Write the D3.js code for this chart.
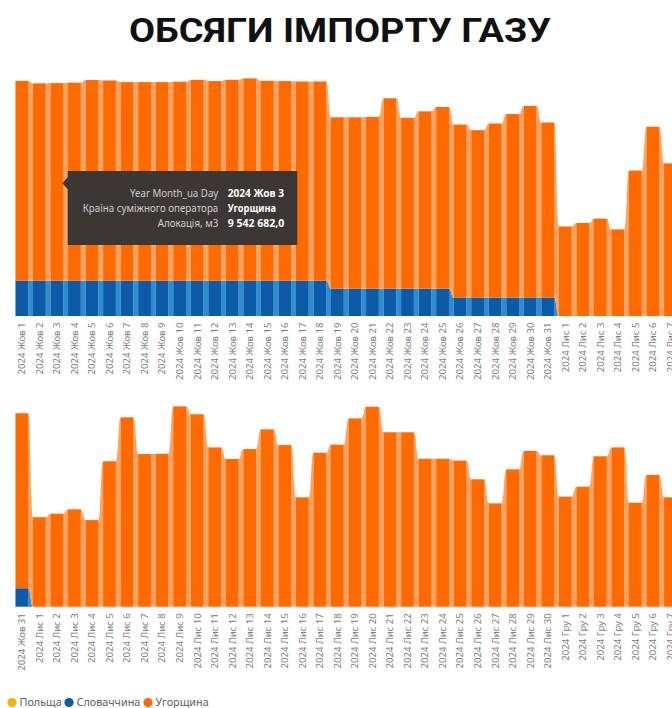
<!DOCTYPE html>
<html><head><meta charset="utf-8">
<script src="https://cdn.jsdelivr.net/npm/d3@7"></script>
<style>
html,body{margin:0;padding:0;background:#fff;overflow:hidden}
svg{display:block}
</style></head><body>
<svg id="c" width="672" height="708"></svg>
<script>
// ---------- DATA ----------
const categories = [
 "2024 Жов 1","2024 Жов 2","2024 Жов 3","2024 Жов 4","2024 Жов 5","2024 Жов 6","2024 Жов 7","2024 Жов 8","2024 Жов 9","2024 Жов 10",
 "2024 Жов 11","2024 Жов 12","2024 Жов 13","2024 Жов 14","2024 Жов 15","2024 Жов 16","2024 Жов 17","2024 Жов 18","2024 Жов 19","2024 Жов 20",
 "2024 Жов 21","2024 Жов 22","2024 Жов 23","2024 Жов 24","2024 Жов 25","2024 Жов 26","2024 Жов 27","2024 Жов 28","2024 Жов 29","2024 Жов 30","2024 Жов 31",
 "2024 Лис 1","2024 Лис 2","2024 Лис 3","2024 Лис 4","2024 Лис 5","2024 Лис 6","2024 Лис 7","2024 Лис 8","2024 Лис 9","2024 Лис 10",
 "2024 Лис 11","2024 Лис 12","2024 Лис 13","2024 Лис 14","2024 Лис 15","2024 Лис 16","2024 Лис 17","2024 Лис 18","2024 Лис 19","2024 Лис 20",
 "2024 Лис 21","2024 Лис 22","2024 Лис 23","2024 Лис 24","2024 Лис 25","2024 Лис 26","2024 Лис 27","2024 Лис 28","2024 Лис 29","2024 Лис 30",
 "2024 Гру 1","2024 Гру 2","2024 Гру 3","2024 Гру 4","2024 Гру 5","2024 Гру 6","2024 Гру 7"
];
const poland = [
 0,0,0,0,0,0,0,0,0,0, 0,0,0,0,0,0,0,0,0,0, 0,0,0,0,0,0,0,0,0,0,0,
 0,0,0,0,0,0,0,0,0,0, 0,0,0,0,0,0,0,0,0,0, 0,0,0,0,0,0,0,0,0,0,
 0,0,0,0,0,0,0
];
const slovakia = [
 1700000,1700000,1700000,1700000,1700000,1700000,1700000,1700000,1700000,1700000,
 1700000,1700000,1700000,1700000,1700000,1700000,1700000,1700000,1320000,1320000,
 1320000,1320000,1320000,1320000,1320000,890000,890000,890000,890000,890000,890000,
 0,0,0,0,0,0,0,0,0,0, 0,0,0,0,0,0,0,0,0,0, 0,0,0,0,0,0,0,0,0,0,
 0,0,0,0,0,0,0
];
const hungary = [
 9650000,9530000,9542682,9560000,9690000,9670000,9590000,9590000,9590000,9610000,
 9700000,9640000,9700000,9770000,9650000,9640000,9620000,9620000,8270000,8270000,
 8290000,9190000,8250000,8560000,8770000,8350000,8080000,8400000,8860000,9250000,8450000,
 4320000,4490000,4700000,4180000,7020000,9140000,7370000,7380000,9670000,9290000,
 7690000,7130000,7610000,8560000,7800000,5280000,7430000,7820000,9090000,9650000,
 8420000,8420000,7140000,7140000,7050000,6150000,4990000,6630000,7520000,7310000,
 5310000,5790000,7260000,7690000,5020000,6360000,5280000
];
const seriesKeys = ["poland","slovakia","hungary"];
const seriesNames = ["Польща","Словаччина","Угорщина"];
const panelSlices = [[0,38],[30,68]];
const tooltipLabels = ["Year Month_ua Day","Країна суміжного оператора","Алокація, м3"];
const tooltipValues = ["2024 Жов 3","Угорщина","9 542 682,0"];
const titleText = "ОБСЯГИ ІМПОРТУ ГАЗУ";

// ---------- STYLE / LAYOUT ----------
const barColors = {poland:"#F5B301", slovakia:"#0D5AA8", hungary:"#FF6A00"};
const ribbonColors = {poland:"#F9D46A", slovakia:"#2A8FCC", hungary:"#FFA262"};
const panelBases = [316, 606.7];
const plotHeight = 248.6;      // px for 12M m3
const yMax = 12000000;
const xStart = 13.08, step = 17.53;
const labelWidths = [88.3, 135.6, 60.6];
const valueWidths = [56.3, 48.3, 56.6];

const table = categories.map((c,i)=>({cat:c, poland:poland[i], slovakia:slovakia[i], hungary:hungary[i]}));
const svg = d3.select("#c");

// title
svg.append("text").attr("x",129).attr("y",42)
  .attr("font-family","Roboto, 'Noto Sans', sans-serif").attr("font-weight",700)
  .attr("font-size",32.5).attr("fill","#111")
  .attr("textLength",422).attr("lengthAdjust","spacingAndGlyphs").text(titleText);

panelSlices.forEach((sl,pi)=>{
  const rows = table.slice(sl[0], sl[1]);
  const base = panelBases[pi];
  const x = d3.scaleBand().domain(rows.map(d=>d.cat))
    .range([xStart, xStart + rows.length*step]).paddingInner(0.27).paddingOuter(0.135);
  const y = d3.scaleLinear().domain([0,yMax]).range([base, base-plotHeight]);
  const stacked = d3.stack().keys(seriesKeys)(rows);
  const g = svg.append("g");
  const bw = x.bandwidth();

  // ribbons
  stacked.forEach(layer=>{
    const key = layer.key;
    for(let i=0;i<layer.length-1;i++){
      const a = layer[i], b = layer[i+1];
      if(a[1]-a[0]===0 && b[1]-b[0]===0) continue;
      const x0 = x(rows[i].cat)+bw, x1 = x(rows[i+1].cat);
      const xm = (x0+x1)/2;
      const p = d3.path();
      p.moveTo(x0, y(a[1]));
      p.bezierCurveTo(xm, y(a[1]), xm, y(b[1]), x1, y(b[1]));
      p.lineTo(x1, y(b[0]));
      p.bezierCurveTo(xm, y(b[0]), xm, y(a[0]), x0, y(a[0]));
      p.closePath();
      g.append("path").attr("d",p.toString()).attr("fill",ribbonColors[key]);
    }
  });
  // bars
  stacked.forEach(layer=>{
    g.selectAll(null).data(layer.filter(d=>d[1]-d[0]>0)).enter().append("rect")
      .attr("x",d=>x(d.data.cat)).attr("width",bw)
      .attr("y",d=>y(d[1])).attr("height",d=>y(d[0])-y(d[1]))
      .attr("fill",barColors[layer.key]);
  });

  // axis
  const ax = svg.append("g").attr("transform",`translate(0,${base})`)
    .call(d3.axisBottom(x).tickSize(0));
  ax.select(".domain").remove();
  ax.selectAll("text")
    .attr("transform","rotate(-90)").attr("x",-6.5).attr("y",0).attr("dy","0.35em")
    .attr("text-anchor","end")
    .attr("font-family","'Noto Sans', 'Open Sans', sans-serif").attr("font-size",9.6)
    .attr("fill","#7d7d7d");
});

// tooltip
const tt = svg.append("g");
tt.append("path").attr("d","M67.7,171 H297.3 V245 H67.7 V189.3 L62.3,183.3 L67.7,177.3 Z")
  .attr("fill","#3a3735");
tooltipLabels.forEach((t,i)=>{
  tt.append("text").attr("x",218.3 - labelWidths[i]).attr("y",197.3+i*14.85)
    .attr("font-family","'Noto Sans', 'Open Sans', sans-serif").attr("font-size",10.4)
    .attr("textLength",labelWidths[i]).attr("lengthAdjust","spacingAndGlyphs")
    .attr("fill","#cfcfcf").text(t);
  tt.append("text").attr("x",227.7).attr("y",197.3+i*14.85)
    .attr("font-family","'Noto Sans', 'Open Sans', sans-serif").attr("font-size",10.4)
    .attr("textLength",valueWidths[i]).attr("lengthAdjust","spacingAndGlyphs")
    .attr("font-weight",700).attr("fill","#ffffff").text(tooltipValues[i]);
});

// legend
const legX = [12, 69, 148];
seriesKeys.forEach((k,i)=>{
  svg.append("circle").attr("cx",legX[i]).attr("cy",702.5).attr("r",4.6).attr("fill",barColors[k]);
  svg.append("text").attr("x",legX[i]+7.5).attr("y",706)
    .attr("font-family","'Noto Sans', 'Open Sans', sans-serif").attr("font-size",10.8)
    .attr("fill","#605e5c").text(seriesNames[i]);
});
</script>
</body></html>
